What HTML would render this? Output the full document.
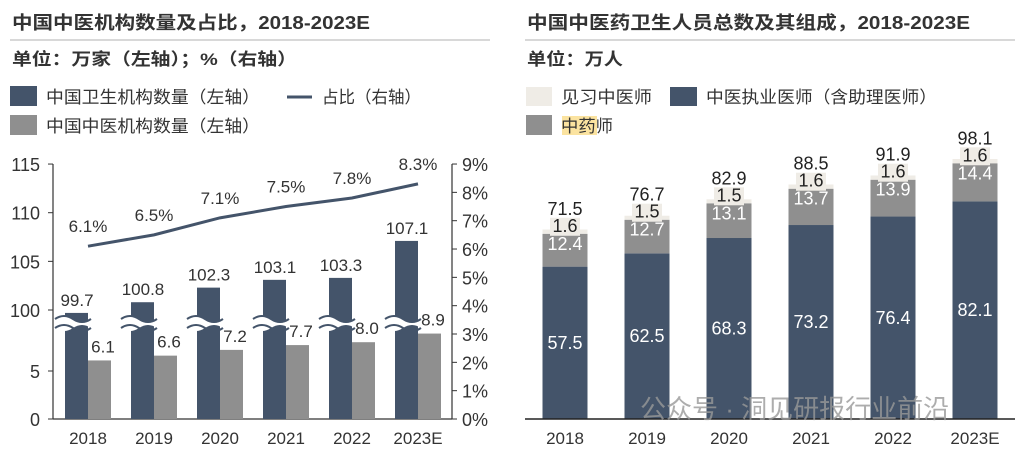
<!DOCTYPE html>
<html><head><meta charset="utf-8"><style>
body{margin:0;background:#fff;}
svg{display:block;font-family:"Liberation Sans","Noto Sans CJK SC",sans-serif;}
</style></head><body>
<svg id="c" width="1021" height="454" viewBox="0 0 1021 454">
<g fill="#333">
<text x="12" y="29" font-size="18" font-weight="bold" textLength="358" lengthAdjust="spacingAndGlyphs">中国中医机构数量及占比，2018-2023E</text>
<line x1="10" y1="40" x2="490" y2="40" stroke="#ccc" stroke-width="1.5"/>
<text x="12" y="65" font-size="17" font-weight="bold" textLength="285" lengthAdjust="spacingAndGlyphs">单位：万家（左轴）；%（右轴）</text>
<rect x="10" y="86" width="27" height="20" fill="#44546a"/>
<text x="46" y="103" font-size="17" textLength="214" lengthAdjust="spacingAndGlyphs">中国卫生机构数量（左轴）</text>
<line x1="287" y1="97" x2="312" y2="97" stroke="#44546a" stroke-width="3"/>
<text x="322" y="103" font-size="17" textLength="99" lengthAdjust="spacingAndGlyphs">占比（右轴）</text>
<rect x="10" y="115" width="27" height="20" fill="#8f8f8f"/>
<text x="46" y="132" font-size="17" textLength="214" lengthAdjust="spacingAndGlyphs">中国中医机构数量（左轴）</text>

<text x="527" y="29" font-size="18" font-weight="bold" textLength="443" lengthAdjust="spacingAndGlyphs">中国中医药卫生人员总数及其组成，2018-2023E</text>
<line x1="525" y1="40" x2="1015" y2="40" stroke="#ccc" stroke-width="1.5"/>
<text x="527" y="65" font-size="17" font-weight="bold" textLength="96" lengthAdjust="spacingAndGlyphs">单位：万人</text>
<rect x="526" y="87" width="26" height="19" fill="#efece6"/>
<text x="561" y="103" font-size="17" textLength="91" lengthAdjust="spacingAndGlyphs">见习中医师</text>
<rect x="670" y="87" width="27" height="19" fill="#44546a"/>
<text x="706" y="103" font-size="17" textLength="231" lengthAdjust="spacingAndGlyphs">中医执业医师（含助理医师）</text>
<rect x="526" y="115" width="26" height="20" fill="#8f8f8f"/>
<rect x="562" y="116" width="35" height="19" fill="#fbe3a0"/>
<text x="561" y="132" font-size="17" textLength="52" lengthAdjust="spacingAndGlyphs">中药师</text>
</g>
<g id="L"></g><g id="R"></g>
</svg>
<script>
const years=["2018","2019","2020","2021","2022","2023E"];
const healthInst=[99.7,100.8,102.3,103.1,103.3,107.1];
const tcmInst=[6.1,6.6,7.2,7.7,8.0,8.9];
const share=[6.1,6.5,7.1,7.5,7.8,8.3];
const leftTicksLow=[0,5];
const leftTicksHigh=[100,105,110,115];
const rightTicks=[0,1,2,3,4,5,6,7,8,9];
const physicians=[57.5,62.5,68.3,73.2,76.4,82.1];
const pharmacists=[12.4,12.7,13.1,13.7,13.9,14.4];
const interns=[1.6,1.5,1.5,1.6,1.6,1.6];
const totals=[71.5,76.7,82.9,88.5,91.9,98.1];
const NS="http://www.w3.org/2000/svg";
function mk(p,t,a,txt){const e=document.createElementNS(NS,t);for(const k in a)e.setAttribute(k,a[k]);if(txt!==undefined)e.textContent=txt;p.appendChild(e);return e;}
const L=document.getElementById('L'),R=document.getElementById('R');
function yL(v){return v>=50?310-(v-100)*9.73:419-v*9.6;}
function yP(p){return 419-p*28.33;}
function xL(i){return 88+i*66;}
let e;
e=mk(L,'line',{x1:53,y1:164,x2:53,y2:419,stroke:'#333','stroke-width':1.2});


e=mk(L,'line',{x1:53,y1:419,x2:452,y2:419,stroke:'#333','stroke-width':1.2});


e=mk(L,'line',{x1:452,y1:164,x2:452,y2:419,stroke:'#333','stroke-width':1.2});


leftTicksLow.concat(leftTicksHigh).forEach(v=>{const y=yL(v);
 mk(L,'line',{x1:48,y1:y,x2:53,y2:y,stroke:'#333'});
 e=mk(L,'text',{x:40,y:y+7,'font-size':18,'text-anchor':'end',fill:'#333'},String(v));
 
 });
rightTicks.forEach(v=>{const y=yP(v);
 mk(L,'line',{x1:452,y1:y,x2:457,y2:y,stroke:'#333'});
 e=mk(L,'text',{x:462,y:y+7,'font-size':18,fill:'#333'},v+'%');
 
 });
years.forEach((yr,i)=>{const c=xL(i);
 const y1=yL(healthInst[i]);
 e=mk(L,'rect',{x:c-23,y:y1,width:23,height:419-y1,fill:'#44546a'});
 
 
 const y2=yL(tcmInst[i]);
 e=mk(L,'rect',{x:c,y:y2,width:23,height:419-y2,fill:'#8f8f8f'});
 
 
 const bx=c-33;
 mk(L,'path',{d:`M${bx} 319 q9 -6 18 0 t18 0 v9 q-9 -6 -18 0 t-18 0 z`,fill:'#fff'});
 mk(L,'path',{d:`M${bx} 319 q9 -6 18 0 t18 0 M${bx} 328 q9 -6 18 0 t18 0`,fill:'none',stroke:'#44546a','stroke-width':2});
 e=mk(L,'text',{x:c-11,y:y1-7,'font-size':17,'text-anchor':'middle',fill:'#333'},healthInst[i].toFixed(1));
 
 
 e=mk(L,'text',{x:c+15,y:y2-8,'font-size':17,'text-anchor':'middle',fill:'#333'},tcmInst[i].toFixed(1));
 
 
 e=mk(L,'text',{x:c,y:444,'font-size':17,'text-anchor':'middle',fill:'#333'},yr);
 
 
 e=mk(L,'text',{x:c,y:yP(share[i])-14,'font-size':17,'text-anchor':'middle',fill:'#333'},share[i].toFixed(1)+'%');
 
 
});
e=mk(L,'polyline',{points:years.map((y,i)=>xL(i)+','+yP(share[i])).join(' '),fill:'none',stroke:'#44546a','stroke-width':3});


function yR(v){return 419-v*2.65;}
function xR(i){return 565+i*82;}
years.forEach((yr,i)=>{const c=xR(i),w=45;
 const a=yR(physicians[i]),b=yR(physicians[i]+pharmacists[i]),t=yR(physicians[i]+pharmacists[i]+interns[i]);
 e=mk(R,'rect',{x:c-w/2,y:a,width:w,height:419-a,fill:'#44546a'});
 
 
 e=mk(R,'rect',{x:c-w/2,y:b,width:w,height:a-b,fill:'#8f8f8f'});
 
 
 e=mk(R,'rect',{x:c-w/2,y:t,width:w,height:b-t,fill:'#efece6'});
 
 
 mk(R,'rect',{x:c-15,y:b-16,width:30,height:18,fill:'#efece6'});
 e=mk(R,'text',{x:c,y:(a+419)/2+6,'font-size':18,'text-anchor':'middle',fill:'#fff'},physicians[i].toFixed(1));
 
 
 e=mk(R,'text',{x:c,y:b+16,'font-size':18,'text-anchor':'middle',fill:'#fff'},pharmacists[i].toFixed(1));
 
 
 e=mk(R,'text',{x:c,y:b-2,'font-size':18,'text-anchor':'middle',fill:'#222'},interns[i].toFixed(1));
 
 
 e=mk(R,'text',{x:c,y:b-19,'font-size':18,'text-anchor':'middle',fill:'#222'},totals[i].toFixed(1));
 
 
 e=mk(R,'text',{x:c,y:444,'font-size':17,'text-anchor':'middle',fill:'#333'},yr);
 
 
});
e=mk(R,'line',{x1:525,y1:419,x2:1015,y2:419,stroke:'#222','stroke-width':1.5});


e=mk(R,'text',{x:640,y:418,'font-size':26,fill:'#999','fill-opacity':0.8},'公众号 · 洞见研报行业前沿');


</script>
</body></html>
